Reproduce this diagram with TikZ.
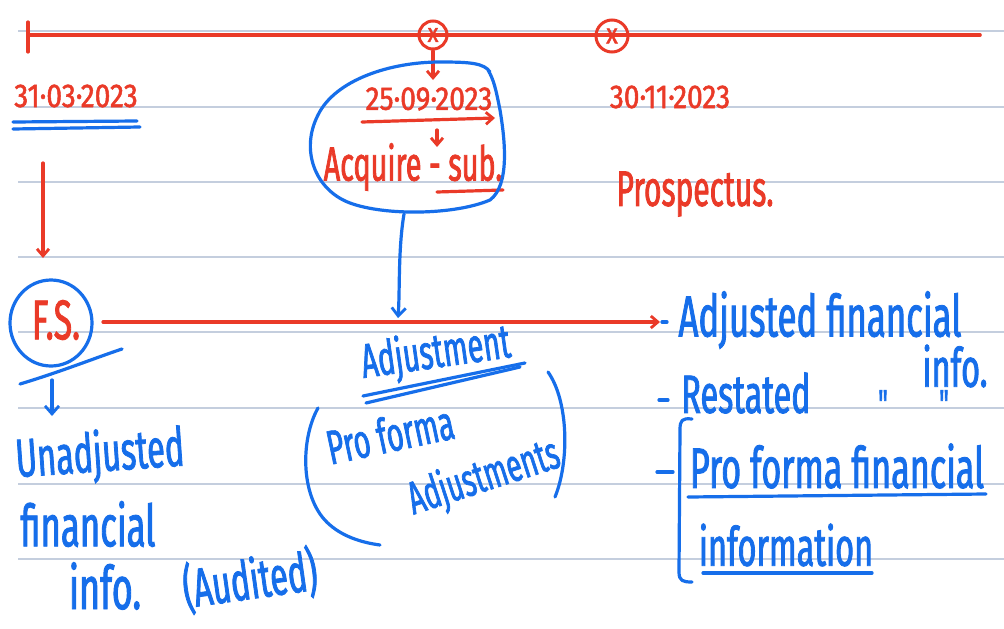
\documentclass[tikz,border=0pt]{standalone}
\usepackage{fontspec}
\usetikzlibrary{arrows.meta,shapes.geometric}
\newfontfamily\hand[FakeStretch=0.6, FakeBold=1.5]{Fira Sans}
\newfontfamily\handw[FakeStretch=0.85, FakeBold=1.5]{Fira Sans}
\definecolor{penred}{RGB}{234,58,40}
\definecolor{penblue}{RGB}{22,110,234}
\definecolor{rulecol}{RGB}{196,206,222}
\newcommand{\hs}[1]{\hand\fontsize{#1}{#1}\selectfont}
\newcommand{\hw}[1]{\handw\fontsize{#1}{#1}\selectfont}
\tikzset{
  rule/.style={draw=rulecol, line width=1.1pt},
  redpen/.style={draw=penred, line width=3.2pt, line cap=round, line join=round},
  bluepen/.style={draw=penblue, line width=3.2pt, line cap=round, line join=round},
  redtip/.style={-{Straight Barb[length=7pt,width=12pt,line width=2.8pt]}},
  bluetip/.style={-{Straight Barb[length=8pt,width=14pt,line width=2.8pt]}},
  rtxt/.style={text=penred, inner sep=0pt},
  btxt/.style={text=penblue, inner sep=0pt},
  cross/.style={circle, draw=penred, line width=3pt, text=penred, inner sep=0pt, minimum size=#1},
}
\begin{document}
\begin{tikzpicture}[x=1pt,y=-1pt]
\useasboundingbox (0,0) rectangle (1004,629);
\fill[white] (0,0) rectangle (1004,629);

% ruled paper
\foreach \yy in {31,107,182,257,332,408,484,559}
  \draw[rule] (18,\yy) -- (1004,\yy);

% time line
\coordinate (tl0) at (28,35);
\coordinate (tl1) at (980,35);
\draw[redpen, line width=3.6pt] (tl0) -- (tl1);
\draw[redpen] (28,22) -- (28,52);
\node[cross=28pt] (x1) at (433,35) {\hw{26}x};
\node[cross=32pt] (x2) at (612,36) {\hw{28}x};

% dates
\node[rtxt] (d1) at (76,96) {\hw{33}31·03·2023};
\node[rtxt] (d2) at (429,99) {\hw{33}25·09·2023};
\node[rtxt] (d3) at (670,97) {\hw{33}30·11·2023};
\draw[bluepen] (13,122) -- (137,121);
\draw[bluepen] (13,129) -- (140,127);

\coordinate (d2a) at (433,51);
\coordinate (d2b) at (433,80);
\draw[redpen, redtip] (d2a) -- (d2b);
\coordinate (u2a) at (362,122);
\coordinate (u2b) at (495,118);
\draw[redpen, redtip] (u2a) -- (u2b);
\coordinate (s2a) at (437,130);
\coordinate (s2b) at (437,147);
\draw[redpen, redtip] (s2a) -- (s2b);

\node[rtxt] (acq) at (413,167) {\hs{48}Acquire - sub.};
\draw[redpen] (437,192) -- (503,190);

% blob round the acquisition
\draw[bluepen] (490,72) .. controls (484,63) and (470,62) .. (440,62)
  .. controls (390,62) and (335,80) .. (318,115)
  .. controls (300,150) and (315,190) .. (350,203)
  .. controls (385,216) and (455,215) .. (490,200)
  .. controls (510,185) and (505,140) .. (500,110)
  .. controls (496,90) and (494,80) .. (488,70);

\node[rtxt] (pro) at (695,194) {\hs{50}Prospectus.};

% the financial statements
\coordinate (a1) at (43,163);
\coordinate (a2) at (43,258);
\draw[redpen, redtip] (a1) -- (a2);
\node[draw=penblue, line width=3.2pt, ellipse, minimum width=82pt, minimum height=86pt, inner sep=0pt] (fs) at (51,323) {};
\node[rtxt] (fst) at (56,320) {\hs{56}F.S.};
\draw[bluepen] (20,384) .. controls (60,372) and (95,358) .. (122,349);
\coordinate (b1) at (52,380);
\coordinate (b2) at (52,416);
\draw[bluepen, bluetip] (b1) -- (b2);

\coordinate (fl1) at (103,322);
\coordinate (fl2) at (660,322);
\draw[redpen, redtip] (fl1) -- (fl2);

\coordinate (c1) at (404,214);
\coordinate (c2) at (398,318);
\draw[bluepen, bluetip] (c1) .. controls (398,250) and (400,290) .. (c2);

% left column
\node[btxt, rotate=4] (un) at (100,456) {\hs{54}Unadjusted};
\node[btxt] (fin) at (88,524) {\hs{58}financial};
\node[btxt] (inf) at (105,586) {\hs{60}info.};
\node[btxt, rotate=8] (aud) at (250,580) {\hs{54}(Audited)};

% middle column
\node[btxt, rotate=8] (adj) at (436,354) {\hs{48}Adjustment};
\draw[bluepen] (363,396) -- (525,363);
\draw[bluepen] (366,403) -- (520,367);
\draw[bluepen] (318,408) .. controls (300,440) and (300,500) .. (330,525)
  .. controls (345,538) and (365,543) .. (380,545);
\node[btxt, rotate=12] (pf) at (390,434) {\hs{48}Pro forma};
\node[btxt, rotate=18] (adjs) at (484,478) {\hs{46}Adjustments};
\draw[bluepen] (548,372) .. controls (568,400) and (570,460) .. (555,497);

% right column
\node[btxt] (af) at (820,320) {\hs{58}Adjusted financial};
\draw[bluepen] (662,322) -- (667,322);
\node[btxt] (afi) at (955,366) {\hs{54}info.};
\draw[bluepen] (659,400) -- (668,400);
\node[btxt] (rs) at (746,393) {\hs{54}Restated};
\node[btxt] (dt1) at (883,404) {\hs{40}"};
\node[btxt] (dt2) at (944,404) {\hs{40}"};
\draw[bluepen] (692,419) .. controls (682,418) and (680,420) .. (680,430)
  -- (679,572) .. controls (679,581) and (683,582) .. (692,582);
\draw[bluepen] (657,472) -- (673,472);
\node[btxt] (pff) at (837,466) {\hs{57}Pro forma financial};
\draw[bluepen] (688,497) -- (986,494);
\node[btxt] (pfi) at (786,545) {\hs{54}information};
\draw[bluepen] (703,573) -- (872,573);
\end{tikzpicture}
\end{document}
